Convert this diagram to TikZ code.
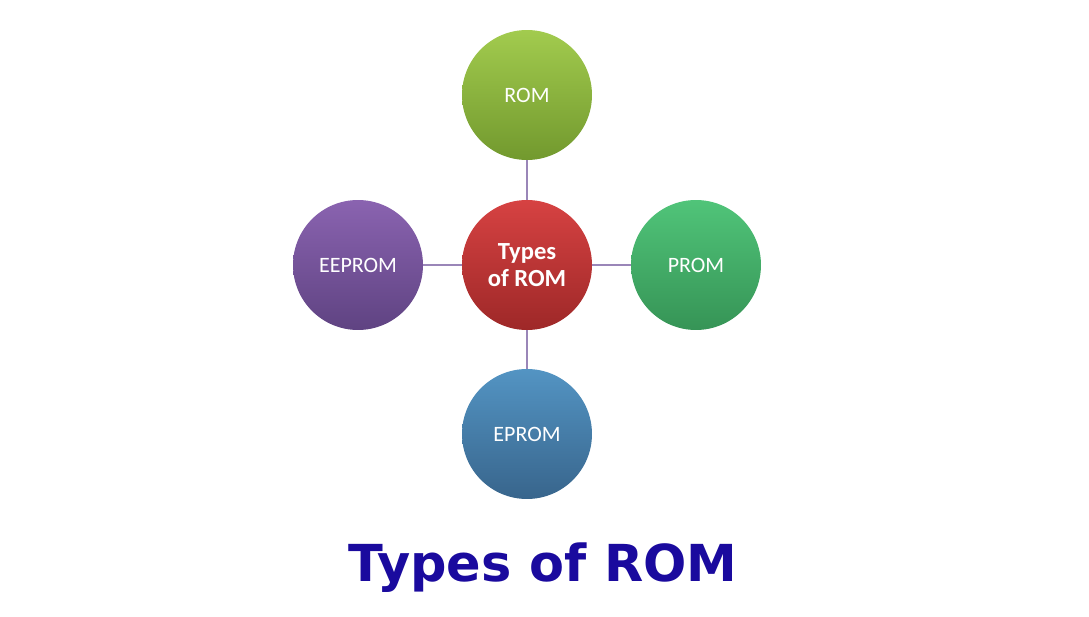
\documentclass[tikz,border=0pt]{standalone}
\usepackage{fontspec}
\setmainfont{Carlito}
\newfontfamily\titlefont{DejaVu Sans}
\definecolor{titleblue}{HTML}{1A0A9E}
\definecolor{linec}{HTML}{9A86B8}
\definecolor{romT}{HTML}{A2CB4E}\definecolor{romB}{HTML}{72992E}
\definecolor{cenT}{HTML}{D64242}\definecolor{cenB}{HTML}{9E2828}
\definecolor{proT}{HTML}{50C479}\definecolor{proB}{HTML}{369456}
\definecolor{eeT}{HTML}{8A63B0}\definecolor{eeB}{HTML}{5F4382}
\definecolor{epT}{HTML}{5394C3}\definecolor{epB}{HTML}{38658C}
\begin{document}
\begin{tikzpicture}[x=0.02cm,y=-0.02cm,
 circ/.style={circle,minimum size=2.6cm,inner sep=0pt,text=white,font=\fontsize{12.5}{14}\selectfont,align=center},
 conn/.style={draw=linec,line width=0.6pt}]
\useasboundingbox[fill=white] (0,0) rectangle (1089,617);
\node[circ,top color=cenT,bottom color=cenB,font=\bfseries\fontsize{14}{15}\selectfont] (c) at (527,265) {Types\\of ROM};
\node[circ,top color=romT,bottom color=romB] (rom) at (527,95) {ROM};
\node[circ,top color=proT,bottom color=proB] (prom) at (696,265) {PROM};
\node[circ,top color=eeT,bottom color=eeB] (ee) at (358,265) {EEPROM};
\node[circ,top color=epT,bottom color=epB] (ep) at (527,434) {EPROM};
\draw[conn] (c) -- (rom); \draw[conn] (c) -- (prom);
\draw[conn] (c) -- (ee); \draw[conn] (c) -- (ep);
\node[text=titleblue,font=\titlefont\bfseries\fontsize{29}{32}\selectfont] (t) at (543,568) {Types of ROM};
\end{tikzpicture}
\end{document}
